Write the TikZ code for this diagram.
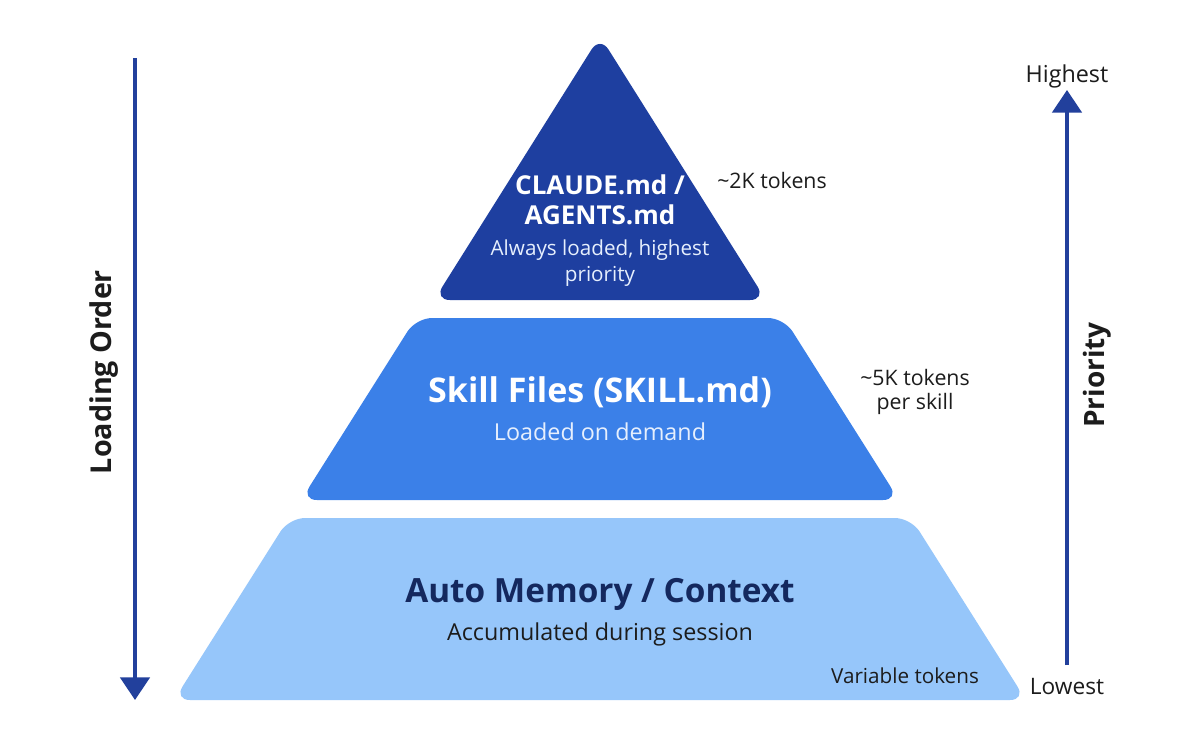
\documentclass[tikz,border=0pt]{standalone}
\usepackage{fontspec}
\setmainfont{Open Sans}
\usetikzlibrary{arrows.meta}
\definecolor{topblue}{HTML}{1E3FA0}
\definecolor{midblue}{HTML}{3B80E8}
\definecolor{lowblue}{HTML}{96C6FA}
\definecolor{navy}{HTML}{14285E}
\definecolor{axisblue}{HTML}{22409C}
\definecolor{ink}{HTML}{1C1C1C}
\definecolor{softwhite}{HTML}{E6EFFD}
\begin{document}
\begin{tikzpicture}[x=0.75pt,y=-0.75pt,
  layer/.style={rounded corners=12pt},
  title/.style={inner sep=0pt, anchor=center},
  note/.style={inner sep=0pt, text=ink, align=center},
  axisarrow/.style={draw=axisblue, line width=3pt, -{Triangle[width=22pt,length=17pt]}},
  axislabel/.style={inner sep=0pt, text=ink}
]
\useasboundingbox[fill=white] (0,0) rectangle (1200,747);

% layers
\fill[layer, topblue] (600,36) -- (766,300) -- (434,300) -- cycle;
\fill[layer, midblue] (416,318) -- (784,318) -- (899,500) -- (301,500) -- cycle;
\fill[layer, lowblue] (289,518) -- (911,518) -- (1026,700) -- (174,700) -- cycle;

% top layer text
\node[title, text=white, font=\fontsize{19.5}{23}\selectfont\bfseries] (t1) at (600,185) {CLAUDE.md /};
\node[title, text=white, font=\fontsize{19.5}{23}\selectfont\bfseries] (t2) at (600,215) {AGENTS.md};
\node[inner sep=0pt, text=softwhite, font=\fontsize{15.5}{19}\selectfont, align=center] (t3) at (600,263) {Always loaded, highest\\priority};
\node[note, font=\fontsize{16}{19}\selectfont] (t4) at (772,180) {\textasciitilde2K tokens};

% middle layer text
\node[title, text=white, font=\fontsize{25.5}{30}\selectfont\bfseries] (m1) at (600,392) {Skill Files (SKILL.md)};
\node[inner sep=0pt, text=softwhite, font=\fontsize{17.5}{21}\selectfont] (m2) at (600,432) {Loaded on demand};
\node[note, font=\fontsize{16}{18.5}\selectfont] (m3) at (915,392) {\textasciitilde5K tokens\\per skill};

% bottom layer text
\node[title, text=navy, font=\fontsize{25}{30}\selectfont\bfseries] (b1) at (600,594) {Auto Memory / Context};
\node[inner sep=0pt, text=ink, font=\fontsize{17.5}{21}\selectfont] (b2) at (600,634) {Accumulated during session};
\node[note, font=\fontsize{15.5}{18}\selectfont] (b3) at (905,676) {Variable tokens};

% loading order axis
\coordinate (lotop) at (135,58);
\coordinate (lobot) at (135,700);
\draw[axisarrow] (lotop) -- (lobot);
\node[axislabel, rotate=90, font=\fontsize{21.5}{25}\selectfont\bfseries] (lo) at (104,372) {Loading Order};

% priority axis
\coordinate (prbot) at (1067,665);
\coordinate (prtop) at (1067,90);
\draw[axisarrow] (prbot) -- (prtop);
\node[axislabel, rotate=90, font=\fontsize{21}{25}\selectfont\bfseries] (pr) at (1097,375) {Priority};
\node[axislabel, font=\fontsize{17.5}{21}\selectfont] (hi) at (1067,76) {Highest};
\node[axislabel, font=\fontsize{17}{20}\selectfont] (lw) at (1067,687) {Lowest};
\end{tikzpicture}
\end{document}
